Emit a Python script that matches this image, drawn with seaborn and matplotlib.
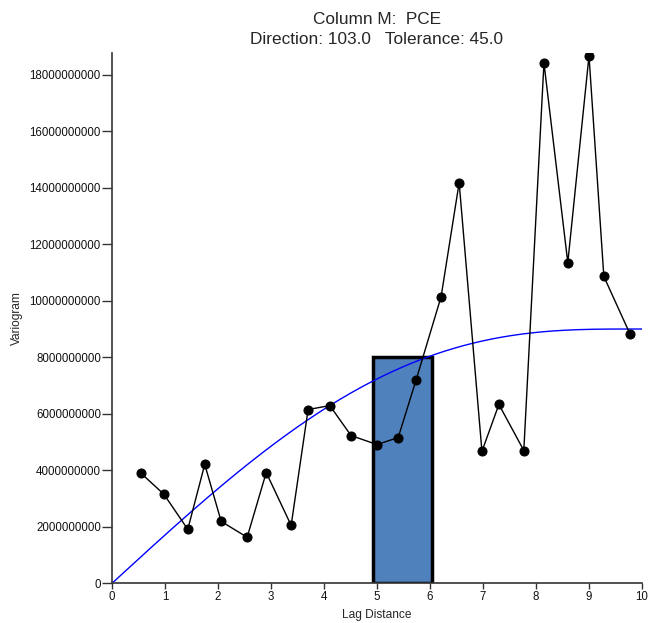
import numpy as np
import pandas as pd
import matplotlib
matplotlib.use("Agg")
import matplotlib.pyplot as plt
import seaborn as sns

# ---- data ----
lag = [0.55, 0.98, 1.43, 1.75, 2.06, 2.55, 2.91, 3.38, 3.70, 4.11, 4.51, 5.00,
       5.40, 5.74, 6.21, 6.55, 6.98, 7.30, 7.77, 8.15, 8.60, 9.00, 9.28, 9.77]
gamma = [3.89e9, 3.15e9, 1.91e9, 4.21e9, 2.19e9, 1.63e9, 3.92e9, 2.05e9,
         6.15e9, 6.29e9, 5.23e9, 4.91e9, 5.16e9, 7.21e9, 10.15e9, 14.18e9,
         4.67e9, 6.33e9, 4.70e9, 18.42e9, 11.35e9, 18.67e9, 10.86e9, 8.84e9]

# fitted variogram model (pentaspherical) parameters
model_sill = 9.0e9
model_range = 9.8

# highlighted lag bin
bin_left = [4.93]
bin_right = [6.04]
bin_height = [8.0e9]

xticks = [0, 1, 2, 3, 4, 5, 6, 7, 8, 9, 10]
yticks = [0, 2e9, 4e9, 6e9, 8e9, 10e9, 12e9, 14e9, 16e9, 18e9]
title_line1 = "Column M:  PCE"
title_line2 = "Direction: 103.0   Tolerance: 45.0"

sns.set_style("ticks")
plt.rcParams['font.family'] = ['Liberation Sans', 'DejaVu Sans']

fig = plt.figure(figsize=(6.51, 6.23), dpi=100)
ax = fig.add_axes([112/651, 1-583.3/623, (642-112)/651, (583.3-52.7)/623])

# bin rectangle
centers = [(l + r) / 2 for l, r in zip(bin_left, bin_right)]
widths = [r - l for l, r in zip(bin_left, bin_right)]
ax.bar(centers, bin_height, width=widths, color="#4f81bd", edgecolor="black",
       linewidth=2.5, zorder=1)

# model curve
h = np.linspace(0, 10, 400)
r = np.clip(h / model_range, 0, 1)
model = model_sill * (15/8*r - 5/4*r**3 + 3/8*r**5)
sns.lineplot(x=h, y=model, ax=ax, color="blue", linewidth=1.0, zorder=2)

# experimental variogram
df = pd.DataFrame({"lag": lag, "gamma": gamma})
sns.lineplot(data=df, x="lag", y="gamma", ax=ax, color="black", linewidth=1.0,
             marker="o", markersize=6.5, markeredgecolor="black",
             markerfacecolor="black", sort=False, zorder=3)

ax.set_xlim(0, 10)
ax.set_ylim(0, 18.78e9)
ax.set_xticks(xticks)
ax.set_xticklabels([str(t) for t in xticks])
ax.set_yticks(yticks)
ax.set_yticklabels([f"{int(t)}" for t in yticks])
ax.tick_params(axis="x", labelsize=8.3, length=4, width=1, color="#333333",
               pad=1.5, direction="out", labelcolor="#111111")
ax.tick_params(axis="y", labelsize=8.3, length=7, width=1, color="#333333",
               pad=1, direction="out", labelcolor="#111111")
for s in ["top", "right"]:
    ax.spines[s].set_visible(False)
for s in ["left", "bottom"]:
    ax.spines[s].set_linewidth(1.2)
    ax.spines[s].set_color("#333333")

ax.set_xlabel("Lag Distance", fontsize=8.6)
ax.set_ylabel("Variogram", fontsize=8.6)
ax.xaxis.set_label_coords(0.5, -0.049)
ax.yaxis.set_label_coords(-0.168, 0.5)

xc = (112 + 642) / 2 / 651
fig.text(xc, 1-19/623, title_line1, ha="center", va="center", fontsize=12.4)
fig.text(xc, 1-39/623, title_line2, ha="center", va="center", fontsize=12.4)

fig.savefig("out.png", dpi=100)
